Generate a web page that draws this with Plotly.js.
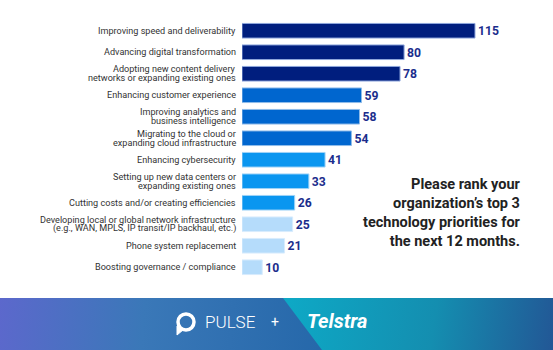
<!DOCTYPE html>
<html>
<head>
<meta charset="utf-8">
<script src="https://cdn.plot.ly/plotly-3.0.1.min.js"></script>
<style>
  html, body { margin: 0; padding: 0; background: #ffffff; }
  #chart { width: 553px; height: 350px; }
</style>
</head>
<body>
<div id="chart"></div>
<script>
// ---- data ----
const categories = [
  "Improving speed and deliverability",
  "Advancing digital transformation",
  "Adopting new content delivery\nnetworks or expanding existing ones",
  "Enhancing customer experience",
  "Improving analytics and\nbusiness intelligence",
  "Migrating to the cloud or\nexpanding cloud infrastructure",
  "Enhancing cybersecurity",
  "Setting up new data centers or\nexpanding existing ones",
  "Cutting costs and/or creating efficiencies",
  "Developing local or global network infrastructure\n(e.g., WAN, MPLS, IP transit/IP backhaul, etc.)",
  "Phone system replacement",
  "Boosting governance / compliance"
];
const values = [115, 80, 78, 59, 58, 54, 41, 33, 26, 25, 21, 10];
const questionLines = [
  "Please rank your",
  "organization\u2019s top 3",
  "technology priorities for",
  "the next 12 months."
];

// ---- style ----
const W = 553, H = 350;
const M = { l: 242, r: 20, t: 20, b: 72 };
const PW = W - M.l - M.r, PH = H - M.t - M.b;
const px2x = p => (p - M.l) / PW;
const px2y = p => (H - M.b - p) / PH;
const palette = ["#001e7e", "#001e7e", "#001e7e", "#0066cf", "#0066cf", "#0066cf",
                 "#0a96f0", "#0a96f0", "#0a96f0", "#b5dcfb", "#b5dcfb", "#b5dcfb"];
const edge = ["#8ea6dc", "#8ea6dc", "#8ea6dc", "#8fbbe9", "#8fbbe9", "#8fbbe9",
              "#9fd3f7", "#9fd3f7", "#9fd3f7", "#d8ecfd", "#d8ecfd", "#d8ecfd"];

const ids = categories.map((c, i) => "c" + i);

const trace = {
  type: "bar",
  orientation: "h",
  x: values,
  y: ids,
  marker: { color: palette, line: { color: edge, width: 1 } },
  width: 0.68,
  text: values.map(String),
  textposition: "outside",
  textfont: { family: "Roboto, Arial, sans-serif", size: 12.5, color: "#1b2d8c", weight: 700 },
  cliponaxis: false,
  hoverinfo: "none"
};

const annotations = [];
categories.forEach((c, i) => {
  const lines = c.split("\n");
  const n = lines.length;
  lines.forEach((ln, k) => {
    annotations.push({
      x: 0, y: ids[i], xref: "x", yref: "y",
      xanchor: "right", yanchor: "middle",
      xshift: -4, yshift: (n - 1) * 4.4 - k * 8.8,
      text: ln, showarrow: false,
      font: { family: "Roboto, Arial, sans-serif", size: 9.1, color: "#333333" }
    });
  });
});

annotations.push({
  x: px2x(523), y: px2y(213), xref: "paper", yref: "paper",
  xanchor: "right", yanchor: "middle", align: "right",
  text: questionLines.join("<br>"), showarrow: false,
  font: { family: "Roboto, Arial, sans-serif", size: 14.5, color: "#222222", weight: 700 }
});

// footer texts
annotations.push({
  x: px2x(230), y: px2y(322), xref: "paper", yref: "paper",
  xanchor: "center", yanchor: "middle", text: "PULSE", showarrow: false,
  font: { family: "Roboto, Arial, sans-serif", size: 17, color: "#ffffff", weight: 300 }
});
annotations.push({
  x: px2x(275), y: px2y(322), xref: "paper", yref: "paper",
  xanchor: "center", yanchor: "middle", text: "+", showarrow: false,
  font: { family: "Roboto, Arial, sans-serif", size: 14, color: "#ffffff" }
});
annotations.push({
  x: px2x(337), y: px2y(321), xref: "paper", yref: "paper",
  xanchor: "center", yanchor: "middle", text: "<b><i>Telstra</i></b>", showarrow: false,
  font: { family: "Roboto, Arial, sans-serif", size: 20, color: "#ffffff" }
});

const svg = "<svg xmlns='http://www.w3.org/2000/svg' width='553' height='52' viewBox='0 0 553 52' preserveAspectRatio='none'>" +
  "<defs>" +
  "<linearGradient id='a' gradientUnits='userSpaceOnUse' x1='0' y1='0' x2='320' y2='30'>" +
  "<stop offset='0' stop-color='#5c68cc'/><stop offset='0.45' stop-color='#3a78b8'/><stop offset='1' stop-color='#2668aa'/></linearGradient>" +
  "<linearGradient id='b' gradientUnits='userSpaceOnUse' x1='290' y1='0' x2='553' y2='40'>" +
  "<stop offset='0' stop-color='#0ea8c5'/><stop offset='0.55' stop-color='#148eb0'/><stop offset='1' stop-color='#225896'/></linearGradient>" +
  "</defs>" +
  "<rect width='553' height='52' fill='url(#a)'/>" +
  "<polygon points='283,0 553,0 553,52 322,52' fill='url(#b)'/>" +
  "</svg>";
const svgUri = "data:image/svg+xml;charset=utf-8," + encodeURIComponent(svg);

const images = [{
  source: svgUri, xref: "paper", yref: "paper",
  x: px2x(0), y: px2y(298), sizex: W / PW, sizey: 52 / PH,
  xanchor: "left", yanchor: "top", sizing: "stretch", layer: "below"
}];

// pulse logo (speech-bubble ring)
const shapes = [
  { type: "circle", xref: "paper", yref: "paper",
    x0: px2x(178), x1: px2x(194), y0: px2y(330), y1: px2y(314),
    line: { color: "#ffffff", width: 3.5 }, fillcolor: "rgba(0,0,0,0)" },
  { type: "path", xref: "paper", yref: "paper",
    path: "M " + px2x(177) + "," + px2y(326) + " L " + px2x(177) + "," + px2y(335) +
          " L " + px2x(183) + "," + px2y(330) + " Z",
    line: { color: "#ffffff", width: 1 }, fillcolor: "#ffffff" }
];

const layout = {
  width: W, height: H,
  margin: M,
  paper_bgcolor: "rgba(0,0,0,0)",
  plot_bgcolor: "rgba(0,0,0,0)",
  showlegend: false,
  xaxis: { range: [0, PW / 2.026], visible: false, fixedrange: true },
  yaxis: { type: "category", range: [11.5, -0.5], showticklabels: false,
           showgrid: false, zeroline: false, showline: false, ticks: "", fixedrange: true },
  annotations: annotations,
  images: images,
  shapes: shapes
};

Plotly.newPlot("chart", [trace], layout, { displayModeBar: false, staticPlot: true });
</script>
</body>
</html>
